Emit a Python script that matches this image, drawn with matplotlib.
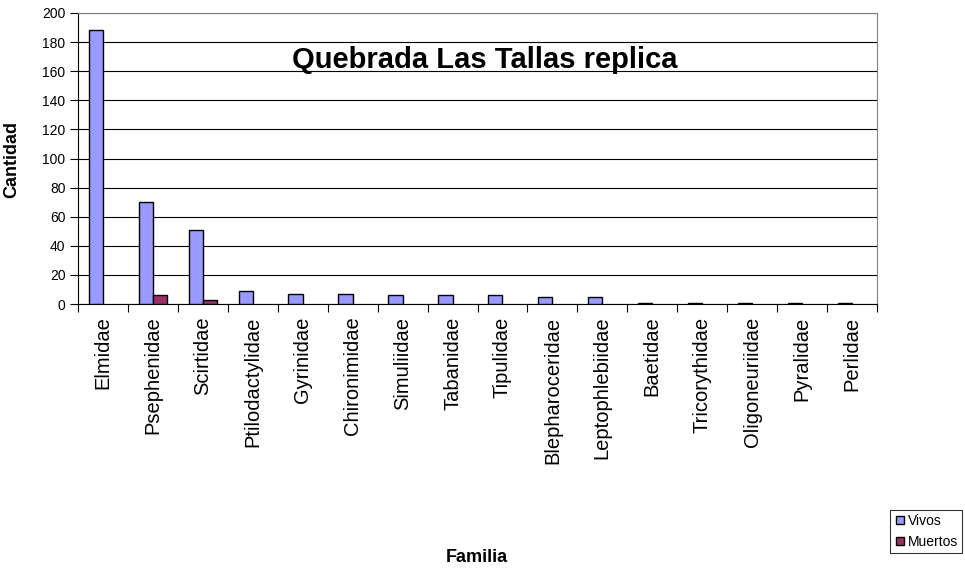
import numpy as np
import matplotlib.pyplot as plt
from matplotlib.lines import Line2D

plt.rcParams['font.family'] = ['Liberation Sans', 'DejaVu Sans']

familias = ['Elmidae', 'Psephenidae', 'Scirtidae', 'Ptilodactylidae', 'Gyrinidae',
            'Chironimidae', 'Simuliidae', 'Tabanidae', 'Tipulidae', 'Blepharoceridae',
            'Leptophlebiidae', 'Baetidae', 'Tricorythidae', 'Oligoneuriidae',
            'Pyralidae', 'Perlidae']
vivos = [188, 70, 51, 9, 7, 7, 6, 6, 6, 5, 5, 1, 1, 1, 1, 1]
muertos = [0, 6, 3, 0, 0, 0, 0, 0, 0, 0, 0, 0, 0, 0, 0, 0]
yticks = [0, 20, 40, 60, 80, 100, 120, 140, 160, 180, 200]

c_vivos = '#9999FF'
c_muertos = '#993366'

fig = plt.figure(figsize=(9.65, 5.73), dpi=100)
ax = fig.add_axes([78 / 965, 1 - 304 / 573, (877 - 78) / 965, (304 - 13) / 573])

x = np.arange(len(familias))
w = 1 / 3.5
ax.bar(x - w / 2, vivos, w, color=c_vivos, edgecolor='black', linewidth=1, zorder=3)
# zero-height bars get no outline, as in the original
lw_m = [1 if m > 0 else 0 for m in muertos]
ax.bar(x + w / 2, muertos, w, color=c_muertos, edgecolor='black', linewidth=lw_m, zorder=3)

ax.set_xlim(-0.5, len(familias) - 0.5)
ax.set_ylim(0, 200)
ax.set_yticks(yticks)
ax.yaxis.grid(True, color='black', linewidth=0.8, zorder=0)
ax.tick_params(axis='y', labelsize=10, direction='out', length=6, width=0.8, pad=3)

ax.set_xticks(np.arange(len(familias) + 1) - 0.5)
ax.set_xticklabels([])
ax.set_xticks(x, minor=True)
ax.set_xticklabels(familias, minor=True, rotation=90, fontsize=14.5)
ax.tick_params(axis='x', which='major', direction='out', length=6, width=0.8)
ax.tick_params(axis='x', which='minor', length=0, pad=9)

for s in ['top', 'right']:
    ax.spines[s].set_color('#808080')
for s in ['left', 'bottom']:
    ax.spines[s].set_color('black')

ax.text((485 - 78) / 799, 1 - (60 - 13) / 291, 'Quebrada Las Tallas replica',
        transform=ax.transAxes, ha='center', va='center', fontsize=21, fontweight='bold')
ax.set_ylabel('Cantidad', fontsize=13, fontweight='bold')
ax.yaxis.set_label_coords((20 - 78) / 799, 1 - (159 - 13) / 291)
fig.text(477 / 965, 1 - 557 / 573, 'Familia', ha='center', va='center',
         fontsize=13, fontweight='bold')

handles = [Line2D([], [], ls='none', marker='s', markersize=6, markerfacecolor=c,
                  markeredgecolor='black', markeredgewidth=1) for c in (c_vivos, c_muertos)]
leg = fig.legend(handles, ['Vivos', 'Muertos'], loc='lower right',
                 bbox_to_anchor=(962 / 965, 1 - 553 / 573),
                 fontsize=10, frameon=True, fancybox=False, edgecolor='black',
                 handlelength=0.9, handletextpad=0.1,
                 borderpad=0.3, labelspacing=0.5, borderaxespad=0)
leg.get_frame().set_linewidth(0.8)

fig.savefig('out.png', dpi=100)
